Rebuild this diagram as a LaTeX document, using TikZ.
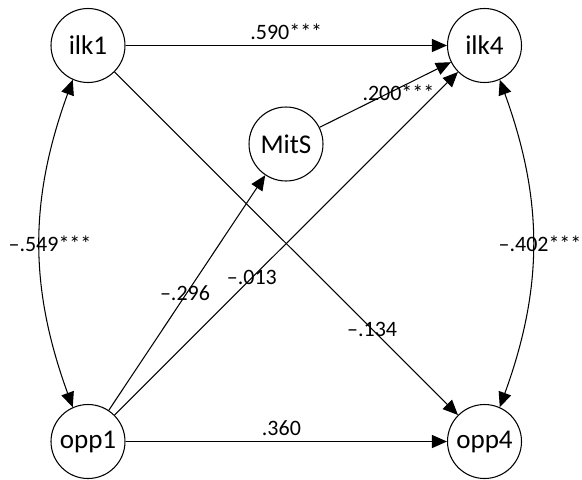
\documentclass[tikz,border=0pt]{standalone}
\usepackage{fontspec}
\setmainfont{Carlito}
\usetikzlibrary{arrows.meta}

\begin{document}
\begin{tikzpicture}[
  >={Triangle[length=3mm, width=2.6mm]},
  var/.style={circle, draw, line width=0.6pt, minimum size=1.48cm, inner sep=0pt, font=\fontsize{15.4}{18}\selectfont},
  reg/.style={->, line width=0.6pt},
  cov/.style={<->, line width=0.6pt},
  est/.style={font=\fontsize{12.5}{15}\selectfont, inner sep=1pt},
]

% ---- frame ----
\useasboundingbox (0,0) rectangle (11.64,-9.58);

% ---- variables ----
\node[var] (ilk1) at (1.76,-0.91) {ilk1};
\node[var] (ilk4) at (9.69,-0.91) {ilk4};
\node[var] (MitS) at (5.72,-2.88) {MitS};
\node[var] (opp1) at (1.76,-8.83) {opp1};
\node[var] (opp4) at (9.69,-8.83) {opp4};

% ---- regressions ----
\draw[reg] (ilk1) -- node[est, above=2pt] {.590***} (ilk4);
\draw[reg] (opp1) -- node[est, above=2pt, pos=0.485] {.360} (opp4);
\draw[reg] (ilk1) -- node[est, pos=0.75] {--.134} (opp4);
\draw[reg] (opp1) -- node[est, pos=0.5, xshift=-0.04cm] {--.296} (MitS);
\draw[reg] (opp1) -- node[est, pos=0.4] {--.013} (ilk4);
\draw[reg] (MitS) -- node[est, pos=0.6, yshift=-1mm] {.200***} (ilk4);

% ---- covariances ----
\draw[cov] (ilk1.246) to[bend right=20] node[est, xshift=0.2cm] {--.549***} (opp1.114);
\draw[cov] (ilk4.294) to[bend left=20] node[est, xshift=0.15cm] {--.402***} (opp4.66);

\end{tikzpicture}
\end{document}
